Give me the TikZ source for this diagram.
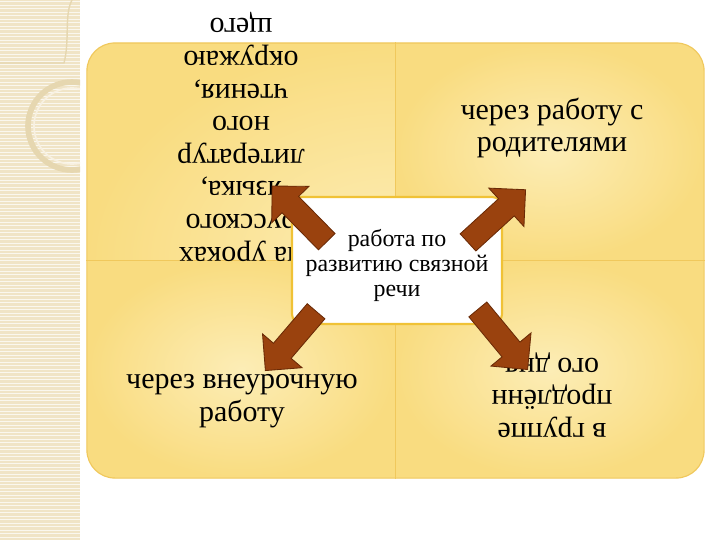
\documentclass[tikz,border=0pt]{standalone}
\usepackage{fontspec}
\setmainfont{Liberation Serif}
\usepackage{tikz}
\usetikzlibrary{shapes.arrows}

\definecolor{stripbg}{HTML}{F0E4C6}
\definecolor{stripdeco}{HTML}{E6D7B0}
\definecolor{quadin}{HTML}{FCEDB6}
\definecolor{quadout}{HTML}{F9DC80}
\definecolor{boxedge}{HTML}{F0C85C}
\definecolor{coreedge}{HTML}{F0C236}
\definecolor{arrowfill}{HTML}{9A420E}
\definecolor{arrowedge}{HTML}{6A2A06}

\tikzset{
  board/.style={rounded corners=0.7cm, minimum width=15.425cm, minimum height=10.875cm,
    draw=boxedge, line width=0.8pt,
    path picture={
      \foreach \corner in {north west,north east,south west,south east}
        \shade[sharp corners, inner color=quadin, outer color=quadout]
          (path picture bounding box.\corner) rectangle (path picture bounding box.center);
    }},
  divider/.style={boxedge, line width=1pt},
  quadtext/.style={align=center, inner sep=0pt, font=\fontsize{21.3}{23.2}\selectfont},
  coretext/.style={align=center, fill=white, draw=coreedge, line width=1.5pt,
    rounded corners=0.25cm, minimum width=5.25cm, minimum height=3.175cm,
    font=\fontsize{17}{17.8}\selectfont},
  blockarrow/.style={single arrow, draw=arrowedge, fill=arrowfill, line width=0.6pt,
    inner sep=0.28cm, single arrow head extend=0.36cm, minimum height=1.95cm,
    sloped, allow upside down, midway}
}

\begin{document}
\begin{tikzpicture}[x=0.025cm, y=-0.025cm]
  \useasboundingbox (0,0) rectangle (720,540);
  \fill[white] (0,0) rectangle (720,540);

  % patterned strip on the left
  \begin{scope}
    \clip (0,0) rectangle (80,540);
    \fill[stripbg] (0,0) rectangle (80,540);
    \foreach \y in {1.5,5,...,540} {
      \draw[white!70!stripbg, line width=0.5pt] (0,\y) -- (80,\y);
    }
    \draw[stripdeco, line width=1pt] (0,63) -- (64,63) .. controls (70,40) and (64,15) .. (72,0);
    \draw[stripdeco, line width=4pt] (72,126) circle (44);
    \draw[white!50!stripbg, line width=1.2pt] (72,126) circle (38);
  \end{scope}

  % board with four fields
  \node[board] (board) at (395.5,260.5) {};
  \draw[divider] (board.north) -- (board.south);
  \draw[divider] (board.west) -- (board.east);

  % field texts
  \node[quadtext, rotate=180] (lessons) at (241,137)
    {на уроках\\русского\\языка,\\литератур\\ного\\чтения,\\окружаю\\щего};
  \node[quadtext] (parents) at (552,128) {через работу с\\родителями};
  \node[quadtext] (extra) at (242,401) {через внеурочную\\работу};
  \node[quadtext, rotate=180] (afterschool) at (552,395) {в группе\\продлённ\\ого дня};

  % centre
  \node[coretext] (core) at (397,260.5) {\rule{0pt}{19pt}работа по\\развитию связной\\речи};

  % arrows out of the centre
  \coordinate (tlTail) at (331,246);
  \coordinate (tlTip) at (276,190);
  \coordinate (trTail) at (463,247);
  \coordinate (trTip) at (522,193);
  \coordinate (blTail) at (318,309);
  \coordinate (blTip) at (271,364);
  \coordinate (brTail) at (475,306);
  \coordinate (brTip) at (523,364);
  \path (tlTail) -- (tlTip) node[blockarrow] (toLessons) {};
  \path (trTail) -- (trTip) node[blockarrow] (toParents) {};
  \path (blTail) -- (blTip) node[blockarrow] (toExtra) {};
  \path (brTail) -- (brTip) node[blockarrow] (toAfterschool) {};
\end{tikzpicture}
\end{document}
